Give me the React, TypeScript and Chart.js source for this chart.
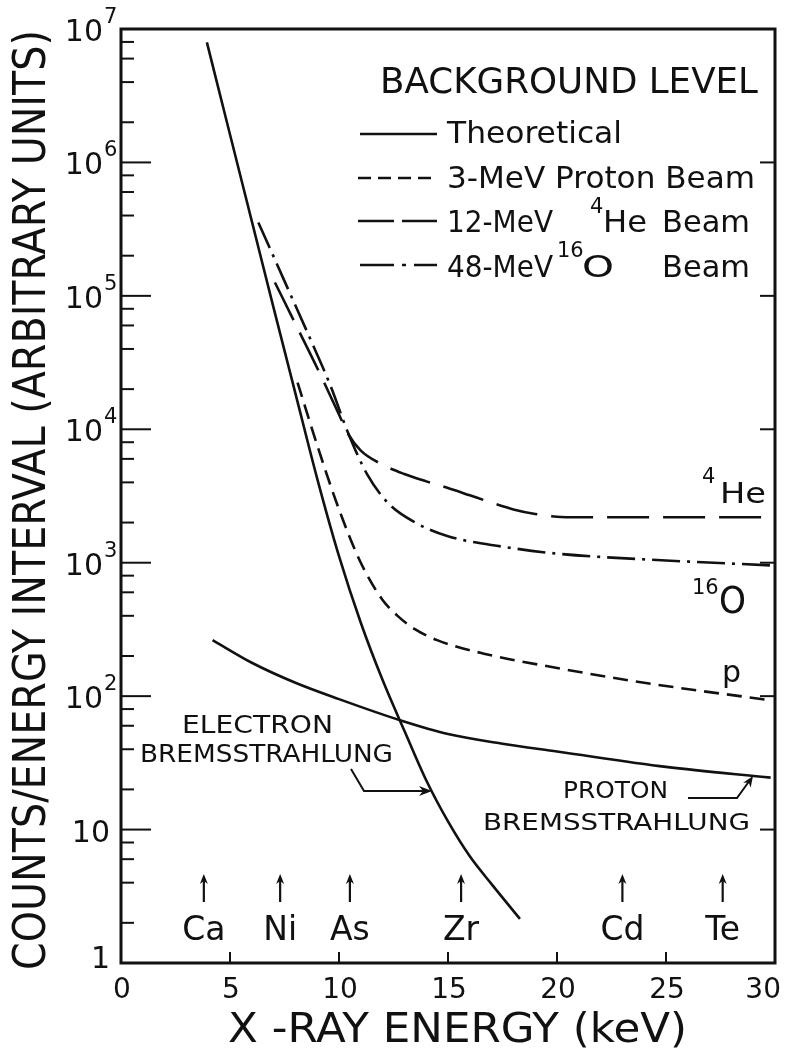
import { useEffect, useRef } from "react";
import { Chart, registerables } from "chart.js";

Chart.register(...registerables);

// Background spectra: X-ray energy (keV) and counts per energy interval
const electronBremsEnergy = [3.94, 5, 6, 7, 8, 9, 10, 11, 12, 13, 14, 15, 16, 17, 18.3];
const electronBremsCounts = [7.94e6, 1.62e6, 3.63e5, 8.13e4, 1.86e4, 4.27e3, 1.12e3, 355, 132, 55, 23.4, 11.5, 6.3, 3.9, 2.14];

const protonBremsEnergy = [4.2, 6, 8, 10, 12.8, 15, 17.5, 20, 25, 29.8];
const protonBremsCounts = [263, 178, 126, 95, 66, 52, 44, 38.5, 29.5, 24.5];

const protonBeamEnergy = [8.1, 9, 10, 11, 12, 12.7, 13.5, 14.5, 16.6, 19.7, 24, 29.8];
const protonBeamCounts = [2.24e4, 7.59e3, 2.51e3, 1.0e3, 525, 398, 316, 263, 209, 166, 126, 93];

const heliumBeamEnergy = [7.06, 8, 9, 10, 10.4, 11, 12, 13, 14, 15, 16, 17, 18, 19, 20, 21, 29.8];
const heliumBeamCounts = [1.26e5, 6.17e4, 2.88e4, 1.29e4, 9.33e3, 6.92e3, 5.43e3, 4.62e3, 4.07e3, 3.63e3, 3.2e3, 2.82e3, 2.51e3, 2.32e3, 2.21e3, 2.19e3, 2.19e3];

const oxygenBeamEnergy = [6.3, 7.5, 8.7, 9.6, 10.4, 11.3, 12.3, 13.5, 15, 17.5, 20, 25, 29.8];
const oxygenBeamCounts = [3.55e5, 1.29e5, 4.68e4, 2.14e4, 9.55e3, 4.57e3, 2.75e3, 2.0e3, 1.58e3, 1.32e3, 1.17e3, 1.04e3, 955];

// Axes
const xTickValues = [0, 5, 10, 15, 20, 25, 30];
const xTickLabels = ["0", "5", "10", "15", "20", "25", "30"];
const yDecades = [1, 10, 100, 1e3, 1e4, 1e5, 1e6, 1e7];
const yLabelBase = ["1", "10", "10", "10", "10", "10", "10", "10"];
const yLabelExp = ["", "", "2", "3", "4", "5", "6", "7"];
const yMinorFactors = [2, 4, 6, 8];

// Characteristic X-ray lines marked along the bottom
const elementNames = ["Ca", "Ni", "As", "Zr", "Cd", "Te"];
const elementEnergy = [3.8, 7.3, 10.5, 15.6, 23.0, 27.6];

const INK = "#111";
const FONT = '"DejaVu Sans", sans-serif';

const DASH_P = [15, 8];
const DASH_HE = [42, 14];
const DASH_O = [28, 7, 3, 7];

type Align = "left" | "center" | "right";

function text(
  ctx: CanvasRenderingContext2D,
  s: string,
  x: number,
  y: number,
  size: number,
  align: Align = "left",
  width?: number
): number {
  ctx.save();
  ctx.font = `${size}px ${FONT}`;
  ctx.textBaseline = "alphabetic";
  ctx.textAlign = "left";
  const w = ctx.measureText(s).width;
  const sx = width ? width / w : 1;
  const dw = w * sx;
  let left = x;
  if (align === "center") left = x - dw / 2;
  if (align === "right") left = x - dw;
  ctx.translate(left, y);
  ctx.scale(sx, 1);
  ctx.fillStyle = INK;
  ctx.fillText(s, 0, 0);
  ctx.restore();
  return left + dw;
}

function line(ctx: CanvasRenderingContext2D, pts: number[][], width = 2, dash: number[] = []) {
  ctx.save();
  ctx.strokeStyle = INK;
  ctx.lineWidth = width;
  ctx.setLineDash(dash);
  ctx.lineCap = "butt";
  ctx.beginPath();
  pts.forEach((p, i) => (i === 0 ? ctx.moveTo(p[0], p[1]) : ctx.lineTo(p[0], p[1])));
  ctx.stroke();
  ctx.restore();
}

function head(ctx: CanvasRenderingContext2D, tipX: number, tipY: number, angle: number, len = 10, half = 4.5) {
  ctx.save();
  ctx.translate(tipX, tipY);
  ctx.rotate(angle);
  ctx.fillStyle = INK;
  ctx.beginPath();
  ctx.moveTo(0, 0);
  ctx.lineTo(-len, -half);
  ctx.lineTo(-len * 0.7, 0);
  ctx.lineTo(-len, half);
  ctx.closePath();
  ctx.fill();
  ctx.restore();
}

const decorations = {
  id: "decorations",
  afterDatasetsDraw(chart: Chart) {
    const { ctx, chartArea: a } = chart;
    const xs = chart.scales.x;
    const ys = chart.scales.y;

    // frame
    ctx.save();
    ctx.strokeStyle = INK;
    ctx.lineWidth = 3;
    ctx.strokeRect(a.left, a.top, a.right - a.left, a.bottom - a.top);
    ctx.restore();

    // y ticks: left side (major + minor), right side (major, inward)
    yDecades.forEach((d, i) => {
      const y = ys.getPixelForValue(d);
      if (i > 0 && i < yDecades.length - 1) {
        line(ctx, [[a.left, y], [a.left + 30, y]], 2);
        line(ctx, [[a.right - 15, y], [a.right, y]], 2);
      }
      if (i < yDecades.length - 1) {
        yMinorFactors.forEach((f) => {
          const ym = ys.getPixelForValue(d * f);
          line(ctx, [[a.left, ym], [a.left + 13, ym]], 2);
        });
      }
      const base = yLabelBase[i];
      const exp = yLabelExp[i];
      if (base === "1") {
        text(ctx, "1", 110, y + 5, 30, "right");
      } else if (exp === "") {
        text(ctx, base, 110, y + 12, 30, "right");
      } else {
        text(ctx, base, 103, y + 12, 30, "right");
        text(ctx, exp, 104, y - 6, 21, "left");
      }
    });

    // x ticks
    xTickValues.forEach((v, i) => {
      const x = xs.getPixelForValue(v);
      if (i > 0 && i < xTickValues.length - 1) line(ctx, [[x, a.bottom], [x, a.bottom - 11]], 2);
      if (i === xTickValues.length - 1) text(ctx, xTickLabels[i], x + 6, 998, 28, "right");
      else text(ctx, xTickLabels[i], x + 1, 998, 28, "center");
    });

    // axis titles
    text(ctx, "X -RAY ENERGY (keV)", 228, 1042, 41, "left", 459);
    ctx.save();
    ctx.translate(45, 970);
    ctx.rotate(-Math.PI / 2);
    text(ctx, "COUNTS/ENERGY INTERVAL (ARBITRARY UNITS)", 0, 0, 44, "left", 940);
    ctx.restore();

    // legend
    text(ctx, "BACKGROUND LEVEL", 380, 93, 36, "left", 378);
    line(ctx, [[360, 134], [437, 134]], 2.6);
    text(ctx, "Theoretical", 447, 143, 30, "left", 175);
    line(ctx, [[358, 178], [437, 178]], 2.6, [13, 7]);
    text(ctx, "3-MeV Proton Beam", 447, 188, 30, "left", 308);
    line(ctx, [[358, 221], [437, 221]], 2.6, [36, 8]);
    text(ctx, "12-MeV", 447, 232, 30, "left", 106);
    text(ctx, "4", 590, 213, 21, "left");
    text(ctx, "He", 603, 232, 30, "left", 44);
    text(ctx, "Beam", 662, 232, 30, "left", 88);
    line(ctx, [[360, 265], [437, 265]], 2.6, [34, 8, 4, 8]);
    text(ctx, "48-MeV", 447, 277, 30, "left", 106);
    text(ctx, "16", 557, 257, 21, "left");
    text(ctx, "O", 582, 277, 31, "left", 32);
    text(ctx, "Beam", 662, 277, 30, "left", 88);

    // curve labels
    text(ctx, "4", 702, 483, 21, "left");
    text(ctx, "He", 720, 503, 28, "left", 46);
    text(ctx, "16", 692, 594, 21, "left");
    text(ctx, "O", 719, 613, 38, "left", 27);
    text(ctx, "p", 722, 682, 30, "left");

    text(ctx, "ELECTRON", 182, 733, 24, "left", 151);
    text(ctx, "BREMSSTRAHLUNG", 140, 762, 24, "left", 253);
    line(ctx, [[351, 769], [364, 791], [428, 791]], 2);
    head(ctx, 432, 791, 0, 13, 5);

    text(ctx, "PROTON", 563, 798, 23, "left", 105);
    text(ctx, "BREMSSTRAHLUNG", 483, 830, 23, "left", 267);
    line(ctx, [[688, 798], [737, 798], [750, 780]], 2);
    head(ctx, 753, 776, -Math.PI / 3.2, 11, 4.5);

    // element markers
    elementNames.forEach((name, i) => {
      const x = xs.getPixelForValue(elementEnergy[i]);
      line(ctx, [[x, 902], [x, 880]], 2.2);
      head(ctx, x, 874, -Math.PI / 2, 10, 4);
      text(ctx, name, x, 940, 33, "center");
    });
  },
};

export default function App() {
  const ref = useRef<HTMLCanvasElement>(null);

  useEffect(() => {
    const canvas = ref.current;
    if (!canvas) return;
    const series = [
      { label: "Electron bremsstrahlung", e: electronBremsEnergy, c: electronBremsCounts, dash: [] as number[] },
      { label: "Proton bremsstrahlung", e: protonBremsEnergy, c: protonBremsCounts, dash: [] as number[] },
      { label: "3-MeV Proton Beam", e: protonBeamEnergy, c: protonBeamCounts, dash: DASH_P },
      { label: "12-MeV 4He Beam", e: heliumBeamEnergy, c: heliumBeamCounts, dash: DASH_HE },
      { label: "48-MeV 16O Beam", e: oxygenBeamEnergy, c: oxygenBeamCounts, dash: DASH_O },
    ];
    const chart = new Chart(canvas, {
      type: "line",
      data: {
        datasets: series.map((s) => ({
          label: s.label,
          data: s.e.map((x, i) => ({ x, y: s.c[i] })),
          borderColor: INK,
          borderWidth: 2.6,
          borderDash: s.dash,
          pointRadius: 0,
          cubicInterpolationMode: "monotone" as const,
          fill: false,
        })),
      },
      options: {
        responsive: false,
        animation: false,
        events: [],
        layout: { padding: { left: 121, right: 18, top: 29, bottom: 92 } },
        scales: {
          x: { type: "linear", min: 0, max: 30, display: false },
          y: { type: "logarithmic", min: 1, max: 1e7, display: false },
        },
        plugins: { legend: { display: false }, tooltip: { enabled: false } },
      },
      plugins: [decorations],
    });
    return () => chart.destroy();
  }, []);

  return (
    <canvas
      ref={ref}
      width={793}
      height={1055}
      style={{ position: "absolute", left: 0, top: 0, background: "#fff" }}
    />
  );
}
